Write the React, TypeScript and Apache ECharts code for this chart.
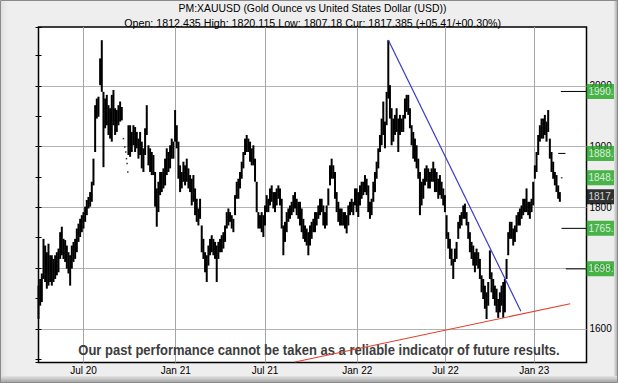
import React, { useEffect, useRef } from "react";
import * as echarts from "echarts";

// Sampled daily-bar envelope (high / low), one sample every ~1.67 px of the reference
const highs: (number | null)[] = [
  1671, 1682, 1691, 1748, 1737, 1726, 1740, 1721, 1721, 1715, 1721, 1726, 1732, 1759, 1768, 1748, 1746, 1737, 1726, 1721,
  1737, 1743, 1748, 1765, 1773, 1781, 1787, 1792, 1801, 1812, 1817, 1825, 1842, 1880, 1968, 1979, 1982, 2045, 2075, 1990,
  1979, 1985, 1968, 1963, 1985, 1993, 1963, 1960, 1968, 1974, 1965, null, null, null, 1935, 1935, 1924, 1935, 1932, 1924,
  1913, 1924, 1908, 1897, 1930, 1968, 1902, 1897, 1891, 1886, 1858, 1831, 1842, 1858, 1858, 1864,
  1880, 1897, 1891, 1902, 1913, 1908, 1960, 1935, 1908, 1869, 1858, 1875, 1869, 1880, 1864, 1853, 1847, 1853, 1831, 1814,
  1798, 1814, 1770, 1748, 1726, 1721, 1737, 1748, 1754, 1748, 1743, 1737, 1743, 1748, 1754, 1759, 1770, 1792, 1798, 1792,
  1787, 1781, 1820, 1842, 1847, 1858, 1875, 1891, 1913, 1919, 1913, 1908, 1897, 1902, 1880, 1842, 1792, 1787, 1792, 1787,
  1803, 1820, 1814, 1831, 1836, 1825, 1825, 1831, 1836, 1831, 1814, 1770, 1776, 1792, 1798, 1803, 1809, 1820, 1825, 1814,
  1809,
  1809, 1798, 1781, 1770, 1765, 1759, 1770, 1776, 1781, 1792, 1792, 1803, 1814, 1814, 1803, 1792, 1803, 1831, 1869, 1880,
  1869, 1858, 1825, 1809, 1798, 1798, 1792, 1792, 1787, 1803, 1809, 1814, 1809, 1831, 1831, 1825, 1836, 1842, 1842, 1853,
  1847, 1836, 1809, 1814, 1842, 1858, 1875, 1897, 1919, 1946, 1974, 1941, 1990, 2075, 2001, 1963, 1946, 1952, 1963, 1946,
  1952, 1946, 1952, 1979, 1985, 1985, 1963, 1935, 1924, 1913, 1902, 1880, 1858, 1842, 1847, 1864, 1869, 1864, 1858, 1864,
  1875,
  1864, 1858, 1847, 1853, 1842, 1831, 1820, 1787, 1759, 1748, 1732, 1715, 1732, 1743, 1776, 1787, 1792, 1803, 1806, 1792,
  1776, 1759, 1743, 1737, 1726, 1732, 1726, 1715, 1688, 1682, 1671, 1660, 1677, 1729, 1693, 1682, 1671, 1666, 1649, 1660,
  1671, 1677, 1682, 1715, 1759, 1776, 1776, 1765, 1770, 1787, 1792, 1798, 1803, 1814, 1814, 1831, 1809, 1809, 1814, 1842,
  1869, 1891, 1919, 1935, 1946, 1946, 1952, 1941, 1960, 1913, 1891, 1875, 1858, 1853, 1836, 1825,
];
const lows: (number | null)[] = [
  1616, 1638, 1644, 1682, 1677, 1666, 1671, 1677, 1671, 1677, 1682, 1688, 1693, 1715, 1721, 1715, 1710, 1699, 1691, 1671,
  1699, 1710, 1715, 1726, 1743, 1751, 1759, 1765, 1776, 1787, 1798, 1801, 1809, 1836, 1891, 1946, 1949, 2001, 1990, 1866,
  1930, 1935, 1919, 1913, 1908, 1935, 1919, 1924, 1935, 1941, 1943, null, null, null, 1886, 1883, 1891, 1902, 1891, 1897,
  1880, 1886, 1864, 1858, 1886, 1919, 1869, 1858, 1853, 1853, 1801, 1768, 1792, 1820, 1825, 1831,
  1836, 1853, 1858, 1864, 1880, 1880, 1908, 1897, 1847, 1825, 1831, 1842, 1836, 1842, 1831, 1825, 1803, 1809, 1787, 1776,
  1770, 1781, 1726, 1715, 1693, 1677, 1704, 1721, 1726, 1721, 1715, 1677, 1715, 1726, 1726, 1732, 1743, 1765, 1770, 1776,
  1765, 1759, 1787, 1814, 1814, 1831, 1847, 1864, 1886, 1891, 1891, 1875, 1869, 1869, 1842, 1792, 1765, 1765, 1759, 1751,
  1770, 1792, 1792, 1803, 1809, 1798, 1792, 1803, 1814, 1803, 1765, 1721, 1743, 1759, 1776, 1781, 1787, 1792, 1798, 1787,
  1781,
  1770, 1759, 1748, 1743, 1737, 1721, 1737, 1748, 1759, 1759, 1770, 1781, 1787, 1792, 1770, 1765, 1770, 1803, 1836, 1847,
  1847, 1814, 1792, 1776, 1770, 1770, 1770, 1765, 1757, 1770, 1787, 1792, 1787, 1803, 1792, 1784, 1803, 1814, 1820, 1825,
  1820, 1792, 1781, 1787, 1809, 1825, 1847, 1864, 1891, 1902, 1919, 1897, 1935, 1979, 1946, 1902, 1908, 1919, 1924, 1891,
  1919, 1924, 1924, 1946, 1957, 1952, 1930, 1902, 1880, 1875, 1864, 1847, 1787, 1803, 1814, 1836, 1842, 1831, 1831, 1842,
  1842,
  1825, 1825, 1814, 1820, 1814, 1803, 1792, 1748, 1732, 1715, 1704, 1682, 1710, 1715, 1748, 1765, 1770, 1781, 1781, 1770,
  1748, 1726, 1715, 1704, 1693, 1704, 1699, 1682, 1660, 1649, 1633, 1616, 1638, 1682, 1660, 1649, 1638, 1627, 1618, 1627,
  1638, 1618, 1627, 1682, 1721, 1748, 1748, 1737, 1743, 1759, 1770, 1770, 1781, 1787, 1792, 1792, 1787, 1781, 1792, 1803,
  1847, 1858, 1886, 1908, 1913, 1913, 1919, 1908, 1924, 1880, 1858, 1847, 1836, 1825, 1814, 1809,
];

// isolated stray prints (late Sep 2020)
const strayPoints: [number, number][] = [
  [51, 1913], [51.8, 1899], [52.4, 1891], [52.8, 1880], [53.2, 1872], [53.6, 1858],
];

// x axis: bar index; month ticks
const lastIndex = 329;
const tickIndex = [27.0, 82.4, 136.0, 191.4, 244.4, 297.6];
const tickLabels = ["Jul 20", "Jan 21", "Jul 21", "Jan 22", "Jul 22", "Jan 23"];

const yMin = 1544.5;
const yMax = 2096.7;

// trend lines
const downTrend: [number, number][] = [[210, 2075.3], [289.6, 1629]];
const upTrend: [number, number][] = [[154, 1545.3], [319.2, 1641.2]];

// target levels
const targetLevels = [1990.6, 1888.6, 1848.5, 1765.3, 1698.6];
const targetStarts = [313.6, 312, 313.6, 314, 316.6];
const targetEnds = [329, 316.4, 314.6, 329, 329];
const targetTags = ["1990.6", "1888.6", "1848.5", "1765.3", "1698.6"];
const currentPrice = 1817.385;
const currentTag = "1817.38";

const titleText = "PM:XAUUSD (Gold Ounce vs United States Dollar (USD))";
const subText = "Open: 1812.435 High: 1820.115 Low: 1807.18 Cur: 1817.385 (+05.41/+00.30%)";
const disclaimer = "Our past performance cannot be taken as a reliable indicator of future results.";

const FONT = '"Liberation Sans", Arial, sans-serif';

function fitScale(text: string, font: string, target: number): number {
  const ctx = document.createElement("canvas").getContext("2d");
  if (!ctx) return 1;
  ctx.font = font;
  const w = ctx.measureText(text).width;
  return w > 0 ? target / w : 1;
}

export default function App() {
  const ref = useRef<HTMLDivElement>(null);

  useEffect(() => {
    const el = ref.current;
    if (!el) return;
    const chart = echarts.init(el, null, { renderer: "svg" });

    const titleFont = '11px "Liberation Sans"';
    const discFont = 'bold 15px "Liberation Sans"';
    const sTitle = fitScale(titleText, titleFont, 268);
    const sSub = fitScale(subText, titleFont, 377);
    const sDisc = fitScale(disclaimer, discFont, 482);

    const bars: number[][] = [];
    highs.forEach((h, i) => {
      const l = lows[i];
      if (h == null || l == null) return;
      bars.push([i, l, h]);
    });

    const levelSeries = targetLevels.map((v, i) => ({
      type: "line",
      data: [[targetStarts[i], v], [targetEnds[i], v]],
      symbol: "none",
      lineStyle: { color: "#000", width: 1 },
      silent: true,
      z: 3,
    }));

    const tagData = targetLevels
      .map((v, i) => ({
        value: [lastIndex, v],
        label: { formatter: targetTags[i], backgroundColor: "#1fa31f" },
      }))
      .concat([
        {
          value: [lastIndex, currentPrice],
          label: { formatter: currentTag, backgroundColor: "#000" },
        },
      ]);

    const grad = (x2: number, y2: number, c1: string, c2: string) =>
      new echarts.graphic.LinearGradient(0, 0, x2, y2, [
        { offset: 0, color: c1 },
        { offset: 1, color: c2 },
      ]);

    const option: any = {
      animation: false,
      backgroundColor: "#eeeeee",
      grid: {
        left: 38.5,
        right: 31.5,
        top: 27,
        bottom: 20.5,
        show: true,
        backgroundColor: "#ffffff",
        borderColor: "#000",
        borderWidth: 1.5,
        containLabel: false,
        outerBoundsMode: "none",
      },
      xAxis: {
        type: "value",
        min: 0,
        max: lastIndex,
        axisLine: { show: false },
        axisTick: { show: false, customValues: tickIndex },
        axisLabel: {
          customValues: tickIndex,
          color: "#000",
          fontSize: 10,
          fontFamily: FONT,
          margin: 3,
          formatter: (val: number) => {
            let best = 0;
            tickIndex.forEach((t, i) => {
              if (Math.abs(t - val) < Math.abs(tickIndex[best] - val)) best = i;
            });
            return tickLabels[best];
          },
        },
        splitLine: { show: true, lineStyle: { color: "#a6a6a6", width: 1 } },
      },
      yAxis: [
        {
          type: "value",
          position: "right",
          min: yMin,
          max: yMax,
          axisLine: { show: false },
          axisTick: { show: true, inside: true, length: 3, lineStyle: { color: "#000" } },
          minorTick: { show: true, splitNumber: 2, length: 3, lineStyle: { color: "#000" } },
          axisLabel: {
            color: "#000",
            fontSize: 10,
            fontFamily: FONT,
            margin: 3,
            showMinLabel: false,
            showMaxLabel: false,
            formatter: (v: number) => String(v),
          },
          splitLine: {
            show: true,
            showMinLine: false,
            showMaxLine: false,
            lineStyle: { color: "#b4b4b4", width: 1 },
          },
        },
        {
          type: "value",
          position: "left",
          min: yMin,
          max: yMax,
          axisLine: { show: false },
          axisTick: { show: true, inside: true, length: 3, lineStyle: { color: "#000" } },
          minorTick: { show: true, splitNumber: 2, length: 3, lineStyle: { color: "#000" } },
          axisLabel: { show: false },
          splitLine: { show: false },
        },
      ],
      series: [
        {
          name: "XAUUSD",
          type: "custom",
          data: bars,
          encode: { x: 0, y: [1, 2] },
          silent: true,
          z: 2,
          renderItem: (params: any, api: any) => {
            const x = api.value(0);
            const top = api.coord([x, api.value(2)]);
            const bottom = api.coord([x, api.value(1)]);
            return {
              type: "rect",
              shape: {
                x: top[0] - 1,
                y: top[1],
                width: 2,
                height: Math.max(1, bottom[1] - top[1]),
              },
              style: { fill: "#000" },
            };
          },
        },
        {
          type: "scatter",
          data: strayPoints,
          symbol: "rect",
          symbolSize: 1.5,
          itemStyle: { color: "#000" },
          silent: true,
        },
        {
          type: "line",
          data: downTrend,
          symbol: "none",
          lineStyle: { color: "#3a3acb", width: 1.2 },
          silent: true,
          z: 4,
        },
        {
          type: "line",
          data: upTrend,
          symbol: "none",
          lineStyle: { color: "#e0412c", width: 1.2 },
          silent: true,
          z: 4,
        },
        ...levelSeries,
        {
          type: "scatter",
          data: tagData,
          symbolSize: 0,
          clip: false,
          silent: true,
          z: 5,
          label: {
            show: true,
            position: "right",
            distance: 0,
            color: "#fff",
            fontSize: 10,
            fontFamily: FONT,
            lineHeight: 11,
            padding: [3, 4, 1, 2],
          },
        },
      ],
      graphic: [
        {
          type: "text",
          x: 312.5,
          y: 8,
          scaleX: sTitle,
          silent: true,
          z: 10,
          style: {
            text: titleText,
            font: titleFont,
            fill: "#000",
            align: "center",
            verticalAlign: "middle",
            textAlign: "center",
            textVerticalAlign: "middle",
          },
        },
        {
          type: "text",
          x: 312.7,
          y: 22.5,
          scaleX: sSub,
          silent: true,
          z: 10,
          style: {
            text: subText,
            font: titleFont,
            fill: "#000",
            align: "center",
            verticalAlign: "middle",
            textAlign: "center",
            textVerticalAlign: "middle",
          },
        },
        {
          type: "text",
          x: 319,
          y: 350,
          scaleX: sDisc,
          silent: true,
          z: 1,
          style: {
            text: disclaimer,
            font: discFont,
            fill: "#3d3d3d",
            align: "center",
            verticalAlign: "middle",
            textAlign: "center",
            textVerticalAlign: "middle",
          },
        },
        // bevelled frame
        {
          type: "rect",
          silent: true,
          z: 100,
          shape: { x: 1, y: 1, width: 9, height: 381 },
          style: { fill: grad(1, 0, "#dedede", "rgba(238,238,238,0)") },
        },
        {
          type: "rect",
          silent: true,
          z: 100,
          shape: { x: 614, y: 0, width: 4, height: 383 },
          style: { fill: grad(1, 0, "#e2e2e2", "#a2a2a2") },
        },
        {
          type: "rect",
          silent: true,
          z: 100,
          shape: { x: 0, y: 376, width: 618, height: 7 },
          style: { fill: grad(0, 1, "#e4e4e4", "#9e9e9e") },
        },
        {
          type: "rect",
          silent: true,
          z: 101,
          shape: { x: 0.5, y: 0.5, width: 617, height: 382 },
          style: { fill: "none", stroke: "#8a8a8a", lineWidth: 1 },
        },
      ],
    };

    chart.setOption(option);
    return () => chart.dispose();
  }, []);

  return (
    <div
      ref={ref}
      style={{ position: "absolute", left: 0, top: 0, width: 618, height: 383 }}
    />
  );
}
